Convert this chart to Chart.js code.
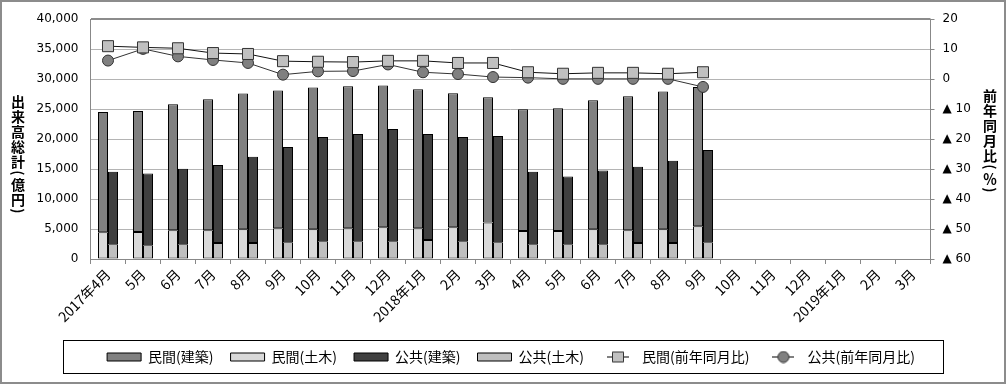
<!DOCTYPE html>
<html lang="ja">
<head>
<meta charset="utf-8">
<title>出来高総計</title>
<script src="https://cdn.jsdelivr.net/npm/chart.js@4.4.1/dist/chart.umd.min.js"></script>
<style>
  html, body { margin: 0; padding: 0; background: #fff; }
</style>
</head>
<body>
<canvas id="chart" width="1006" height="384"></canvas>
<script>
// Chart data (億円 / %)
const months = ["2017年4月", "5月", "6月", "7月", "8月", "9月", "10月", "11月", "12月",
  "2018年1月", "2月", "3月", "4月", "5月", "6月", "7月", "8月", "9月",
  "10月", "11月", "12月", "2019年1月", "2月", "3月"];

const privBuild = [20050, 20200, 21000, 21850, 22650, 22950, 23650, 23650, 23650, 23150, 22350, 20900,
  20350, 20500, 21550, 22350, 23000, 23250, null, null, null, null, null, null];
const privCivil = [4450, 4500, 4800, 4800, 4950, 5150, 4950, 5150, 5300, 5150, 5300, 6100,
  4650, 4650, 4950, 4800, 4950, 5450, null, null, null, null, null, null];
const pubBuild = [12100, 11950, 12600, 13050, 14400, 15900, 17400, 17900, 18750, 17700, 17400, 17700,
  12100, 11300, 12300, 12750, 13750, 15400, null, null, null, null, null, null];
const pubCivil = [2450, 2300, 2450, 2650, 2650, 2800, 2950, 2950, 2950, 3150, 2950, 2800,
  2450, 2450, 2450, 2650, 2650, 2800, null, null, null, null, null, null];

const privYoY = [11.0, 10.6, 10.3, 8.7, 8.4, 6.0, 5.8, 5.7, 6.1, 6.1, 5.4, 5.4,
  2.3, 1.8, 2.1, 2.1, 1.8, 2.3, null, null, null, null, null, null];
const pubYoY = [6.2, 10.1, 7.6, 6.4, 5.4, 1.5, 2.6, 2.7, 4.9, 2.3, 1.7, 0.7,
  0.5, 0.1, 0.1, 0.1, 0.1, -2.6, null, null, null, null, null, null];

const leftTicks = { min: 0, max: 40000, step: 5000 };
const rightTicks = { min: -60, max: 20, step: 10 };

const leftTitle = "出来高総計(億円)";
const rightTitle = "前年同月比(％)";

// Small legend icons for the line series (line + marker)
function lineIcon(kind) {
  const c = document.createElement("canvas");
  c.width = 22;
  c.height = 13;
  const g = c.getContext("2d");
  g.strokeStyle = "#000";
  g.lineWidth = 1;
  g.beginPath();
  g.moveTo(0, 6.5);
  g.lineTo(22, 6.5);
  g.stroke();
  g.beginPath();
  if (kind === "rect") {
    g.rect(5.5, 1.5, 11, 10);
    g.fillStyle = "#c0c0c0";
  } else {
    g.arc(11, 6.5, 5.5, 0, Math.PI * 2);
    g.fillStyle = "#808080";
  }
  g.fill();
  g.strokeStyle = "#333";
  g.stroke();
  return c;
}

const legendIcons = [null, null, null, null, lineIcon("rect"), lineIcon("circle")];

// Vertical (tategaki) title: one glyph per row, brackets turned sideways
function drawVertical(ctx, text, cx, top) {
  let y = top;
  for (const ch of text) {
    if (ch === "(" || ch === ")") {
      ctx.save();
      ctx.translate(cx, y + 4);
      ctx.rotate(Math.PI / 2);
      ctx.fillText(ch, 0, 0);
      ctx.restore();
      y += 8;
    } else {
      ctx.fillText(ch, cx, y + 7.5);
      y += 15;
    }
  }
}

// Outer frame, legend frame and axis titles
const framePlugin = {
  id: "frames",
  afterDraw(chart) {
    const ctx = chart.ctx;
    ctx.save();
    ctx.strokeStyle = "#8c8c8c";
    ctx.lineWidth = 2;
    ctx.strokeRect(1, 1, chart.width - 2, chart.height - 2);
    ctx.strokeStyle = "#000";
    ctx.lineWidth = 1;
    ctx.strokeRect(63.5, 340.5, 880, 33);

    ctx.fillStyle = "#000";
    ctx.font = "bold 14px 'Noto Sans CJK JP'";
    ctx.textAlign = "center";
    ctx.textBaseline = "middle";
    drawVertical(ctx, leftTitle, 18, 94);
    drawVertical(ctx, rightTitle, 990, 88);
    ctx.restore();
  },
};

const tickFont = { family: "DejaVu Sans", size: 12 };
const cjkFont = { family: "Noto Sans CJK JP", size: 14 };

const barStyle = { borderColor: "#000", borderWidth: 1, borderSkipped: false, yAxisID: "y" };

const ctx = document.getElementById("chart").getContext("2d");
new Chart(ctx, {
  data: {
    labels: months,
    datasets: [
      { type: "bar", label: "民間(建築)", data: privBuild, stack: "priv", order: 2, backgroundColor: "#808080", ...barStyle },
      { type: "bar", label: "民間(土木)", data: privCivil, stack: "priv", order: 1, backgroundColor: "#d9d9d9", ...barStyle },
      { type: "bar", label: "公共(建築)", data: pubBuild, stack: "pub", order: 2, backgroundColor: "#404040", ...barStyle },
      { type: "bar", label: "公共(土木)", data: pubCivil, stack: "pub", order: 1, backgroundColor: "#bfbfbf", ...barStyle },
      {
        type: "line", label: "民間(前年同月比)", data: privYoY, order: 0, yAxisID: "y2",
        borderColor: "#111", borderWidth: 1, pointStyle: "rect", pointRadius: 7.8,
        pointBackgroundColor: "#c0c0c0", pointBorderColor: "#333", pointBorderWidth: 1,
      },
      {
        type: "line", label: "公共(前年同月比)", data: pubYoY, order: 0, yAxisID: "y2",
        borderColor: "#333", borderWidth: 1, pointStyle: "circle", pointRadius: 5.5,
        pointBackgroundColor: "#808080", pointBorderColor: "#333", pointBorderWidth: 1,
      },
    ],
  },
  options: {
    responsive: false,
    animation: false,
    layout: { padding: { left: 16, right: 0, top: 17, bottom: 10 } },
    datasets: { bar: { categoryPercentage: 0.5714, barPercentage: 1.0 } },
    plugins: {
      tooltip: { enabled: false },
      legend: {
        position: "bottom",
        labels: {
          font: cjkFont,
          color: "#000",
          usePointStyle: true,
          pointStyleWidth: 34,
          boxHeight: 8,
          padding: 17,
          sort: (a, b) => a.datasetIndex - b.datasetIndex,
          generateLabels(chart) {
            const items = Chart.defaults.plugins.legend.labels.generateLabels(chart);
            items.forEach((it) => {
              it.pointStyle = legendIcons[it.datasetIndex] || "rect";
              it.strokeStyle = "#000";
              it.lineWidth = 1;
            });
            return items;
          },
        },
      },
    },
    scales: {
      x: {
        stacked: true,
        grid: { offset: true, drawOnChartArea: false, tickLength: 5, color: "#888" },
        border: { color: "#888" },
        ticks: { font: cjkFont, color: "#000", minRotation: 45, maxRotation: 45, autoSkip: false, padding: 2 },
        afterFit(scale) { scale.height = 74; },
      },
      y: {
        stacked: true,
        position: "left",
        min: leftTicks.min,
        max: leftTicks.max,
        grid: {
          drawTicks: false,
          color: (c) => (c.tick && c.tick.value === leftTicks.max ? "#8c8c8c" : "#b4b4b4"),
          lineWidth: (c) => (c.tick && c.tick.value === leftTicks.max ? 2 : 1),
        },
        border: { color: "#888" },
        ticks: {
          stepSize: leftTicks.step,
          font: tickFont,
          color: "#000",
          padding: 12,
          callback: (v) => v.toLocaleString("en-US"),
        },
        afterFit(scale) { scale.width = 74.5; },
      },
      y2: {
        position: "right",
        min: rightTicks.min,
        max: rightTicks.max,
        grid: { drawOnChartArea: false, tickLength: 4, color: "#888" },
        border: { color: "#888" },
        ticks: {
          stepSize: rightTicks.step,
          font: tickFont,
          color: "#000",
          padding: 8,
          callback: (v) => (v < 0 ? "▲ " + -v : String(v)),
        },
        afterFit(scale) { scale.width = 75.5; },
      },
    },
  },
  plugins: [framePlugin],
});
</script>
</body>
</html>
